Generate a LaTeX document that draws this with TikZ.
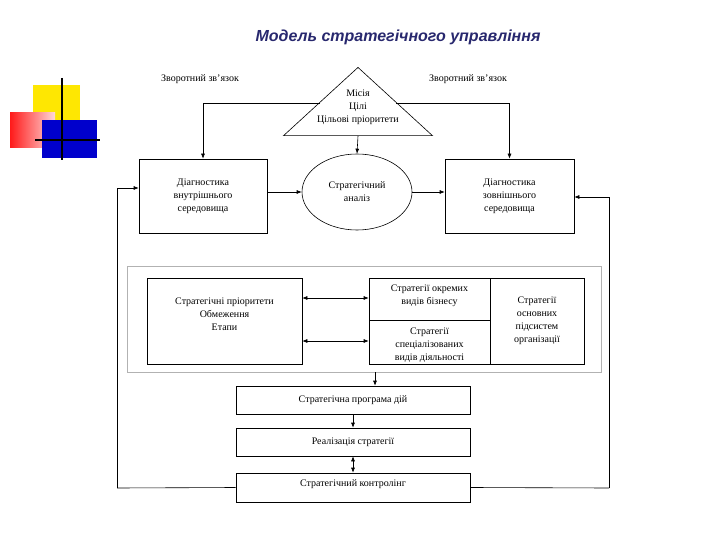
\documentclass[tikz,border=0pt]{standalone}
\usepackage{fontspec}
\setmainfont{Liberation Serif}
\newfontfamily\titlefont{Liberation Sans}
\usetikzlibrary{arrows.meta,shapes.geometric}
\definecolor{titleblue}{RGB}{40,40,110}
\tikzset{
  box/.style={draw,line width=0.6pt,inner sep=0pt},
  lbl/.style={font=\fontsize{10}{13}\selectfont,align=center,inner sep=0pt},
  arr/.style={-{Latex[length=5pt,width=4pt]},line width=0.6pt},
  darr/.style={{Latex[length=5pt,width=4pt]}-{Latex[length=5pt,width=4pt]},line width=0.6pt},
  ln/.style={line width=0.6pt}
}
\begin{document}
\begin{tikzpicture}[x=1pt,y=-1pt]
\useasboundingbox (0,0) rectangle (720,540);
\node[font=\titlefont\bfseries\itshape\fontsize{16}{18}\selectfont,text=titleblue] (title) at (398,37) {Модель стратегічного управління};
% decoration
\fill[yellow!90!orange] (33,85) rectangle (80,120);
\shade[left color=red!90,right color=red!15] (10,113) rectangle (55,148);
\fill[blue!80!black] (42,120) rectangle (97,158);
\draw[line width=1.5pt] (62,78) -- (62,160);
\draw[line width=1.5pt] (35,140) -- (100,140);
% top
\node[lbl] (fbL) at (200,79) {Зворотний зв'язок};
\node[lbl] (fbR) at (468,79) {Зворотний зв'язок};
\node[draw,line width=0.6pt,isosceles triangle,shape border rotate=90,isosceles triangle apex angle=95,minimum width=149pt,minimum height=68pt,inner sep=0pt,anchor=south] (tri) at (358,136) {};
\node[lbl,align=center] (tritxt) at (358,107) {Місія\\Цілі\\Цільові пріоритети};
\node[box,minimum width=128pt,minimum height=74pt] (din) at (203,196) {};
\node[lbl] at (din) {Діагностика\\внутрішнього\\середовища};
\node[draw,line width=0.6pt,ellipse,minimum width=110pt,minimum height=76pt] (sa) at (357,192) {};
\node[lbl] at (sa) {Стратегічний\\аналіз};
\node[box,minimum width=129pt,minimum height=74pt] (dout) at (509.5,196) {};
\node[lbl] at (dout) {Діагностика\\зовнішнього\\середовища};
\coordinate (tL) at (320,103);
\coordinate (tR) at (396,103);
\draw[arr] (tL) -| (din.north);
\draw[arr] (tR) -| (dout.north);
\draw[arr] (tri.south) -- (sa.north);
\draw[arr] (din.east |- sa) -- (sa.west);
\draw[arr] (sa.east) -- (dout.west |- sa);
% middle frame
\node[draw=gray!60,line width=0.8pt,minimum width=474pt,minimum height=106pt,inner sep=0pt] (frame) at (364,319) {};
\node[box,minimum width=155pt,minimum height=86pt] (pri) at (224.5,321) {};
\node[lbl] at (224.5,314) {Стратегічні пріоритети\\Обмеження\\Етапи};
\node[box,minimum width=121pt,minimum height=42pt] (biz) at (429.5,299) {};
\node[lbl] at (429.5,296) {Стратегії окремих\\видів бізнесу};
\node[box,minimum width=121pt,minimum height=44pt] (spec) at (429.5,342) {};
\begin{scope}
\clip (369,320) rectangle (490,362);
\node[lbl] at (429.5,345) {Стратегії\\спеціалізованих\\видів діяльності};
\end{scope}
\node[box,minimum width=94pt,minimum height=86pt] (sub) at (537,321) {};
\node[lbl] at (sub) {Стратегії\\основних\\підсистем\\організації};
\draw[darr] (pri.east |- 0,298) -- (biz.west |- 0,298);
\draw[darr] (pri.east |- 0,341) -- (spec.west |- 0,341);
% bottom
\node[box,minimum width=234pt,minimum height=28pt] (prog) at (353,400) {};
\node[lbl] at (prog) {Стратегічна програма дій};
\node[box,minimum width=234pt,minimum height=28pt] (real) at (353,442) {};
\node[lbl] at (real) {Реалізація стратегії};
\node[box,minimum width=234pt,minimum height=29pt] (ctrl) at (353,487.5) {};
\node[lbl] at (353,484) {Стратегічний контролінг};
\draw[arr] (frame.south -| 375,0) -- (prog.north -| 375,0);
\draw[arr] (prog.south) -- (real.north);
\draw[darr] (real.south) -- (ctrl.north);
\coordinate (lc) at (117,488);
\coordinate (rc) at (609,488);
\draw[ln] (ctrl.west) -- (lc);
\draw[arr] (lc) |- (din.west |- 0,188);
\draw[ln] (ctrl.east) -- (rc);
\draw[arr] (rc) |- (dout.east |- 0,197);
\end{tikzpicture}
\end{document}
